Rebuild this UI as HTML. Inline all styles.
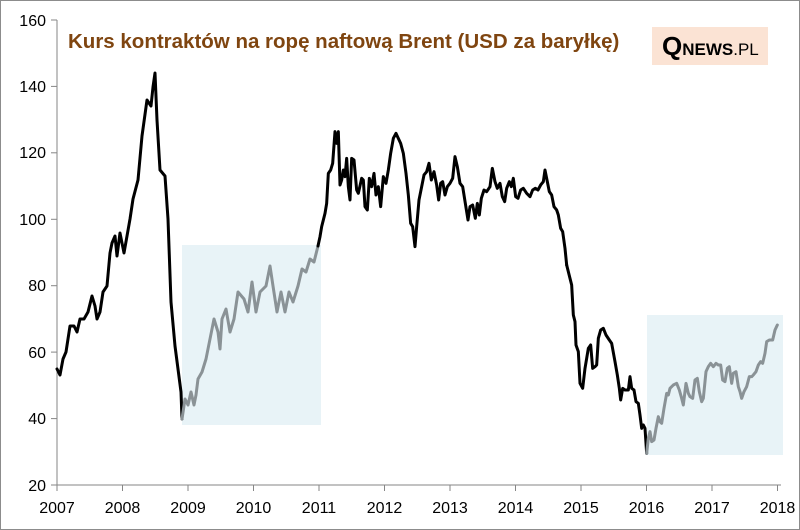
<!DOCTYPE html>
<html><head><meta charset="utf-8"><style>
html,body{margin:0;padding:0;background:#fff}
svg{display:block}
text{font-family:"Liberation Sans",sans-serif}
</style></head><body>
<svg width="800" height="530" viewBox="0 0 800 530" xmlns="http://www.w3.org/2000/svg">
<rect x="0.5" y="0.5" width="799" height="529" fill="#fff" stroke="#8c8c8c"/>
<rect x="182" y="245" width="139" height="180" fill="#e8f3f7"/>
<rect x="647" y="315" width="136" height="140" fill="#e8f3f7"/>
<g stroke="#868686" stroke-width="1" fill="none">
<line x1="57" y1="20" x2="57" y2="485"/>
<line x1="57" y1="485" x2="781" y2="485"/>
<line x1="51" y1="20" x2="57" y2="20"/><line x1="51" y1="86.4" x2="57" y2="86.4"/><line x1="51" y1="152.8" x2="57" y2="152.8"/><line x1="51" y1="219.3" x2="57" y2="219.3"/><line x1="51" y1="285.7" x2="57" y2="285.7"/><line x1="51" y1="352.1" x2="57" y2="352.1"/><line x1="51" y1="418.6" x2="57" y2="418.6"/><line x1="51" y1="485" x2="57" y2="485"/>
<line x1="57" y1="485" x2="57" y2="491"/><line x1="122.5" y1="485" x2="122.5" y2="491"/><line x1="188" y1="485" x2="188" y2="491"/><line x1="253.5" y1="485" x2="253.5" y2="491"/><line x1="319" y1="485" x2="319" y2="491"/><line x1="384.5" y1="485" x2="384.5" y2="491"/><line x1="450" y1="485" x2="450" y2="491"/><line x1="515.5" y1="485" x2="515.5" y2="491"/><line x1="581" y1="485" x2="581" y2="491"/><line x1="646.5" y1="485" x2="646.5" y2="491"/><line x1="712" y1="485" x2="712" y2="491"/><line x1="777.5" y1="485" x2="777.5" y2="491"/>
</g>
<g font-size="16" fill="#000" text-anchor="end">
<text x="46" y="26">160</text><text x="46" y="92">140</text><text x="46" y="158">120</text><text x="46" y="225">100</text><text x="46" y="291">80</text><text x="46" y="358">60</text><text x="46" y="424">40</text><text x="46" y="491">20</text>
</g>
<g font-size="16" fill="#000" text-anchor="middle">
<text x="57" y="513">2007</text><text x="122.5" y="513">2008</text><text x="188" y="513">2009</text><text x="253.5" y="513">2010</text><text x="319" y="513">2011</text><text x="384.5" y="513">2012</text><text x="450" y="513">2013</text><text x="515.5" y="513">2014</text><text x="581" y="513">2015</text><text x="646.5" y="513">2016</text><text x="712" y="513">2017</text><text x="777.5" y="513">2018</text>
</g>
<text x="68" y="48" font-size="20.5" font-weight="bold" fill="#7f4510">Kurs kontraktów na ropę naftową Brent (USD za baryłkę)</text>
<rect x="652" y="27" width="116" height="38" fill="#fbe3d4"/>
<text x="662" y="55" font-family="Liberation Serif,serif" font-weight="bold" fill="#000"><tspan font-size="26">Q</tspan><tspan font-size="17">NEWS</tspan><tspan font-size="17" font-weight="normal">.PL</tspan></text>
<g fill="none" stroke-linejoin="round" stroke-linecap="round">
<polyline stroke="#000" stroke-width="3" points="57,369 60,375 63,359 66,352 70,326 74,326 77,332 80,319 84,319 88,312 92,296 95,306 97,319 100,312 103,292 107,286 110,253 112,243 115,236 117,256 120,233 124,253 130,219 133,199 138,180 142,136 147,100 151,106 153,87 155,73 157,120 160,170 165,176 168,219 171,302 175,346 178,369 181,392 182,419"/>
<polyline stroke="#8a9296" stroke-width="3" points="182,419 185,399 188,405 191,392 194,405 196,395 198,379 202,372 206,359 210,339 214,319 218,332 220,349 222,319 226,309 230,332 234,319 238,292 244,299 248,312 252,282 256,312 260,292 266,286 270,266 273,286 277,312 281,292 285,312 289,292 293,302 298,286 302,269 306,272 310,259 314,262 318,246"/>
<polyline stroke="#000" vector-effect="non-scaling-stroke" style="stroke-width:3" transform="translate(310,110) scale(0.33333)" points="24,408 30,380 35,350 45,310 50,280 55,190 62,180 68,160 75,65 80,100 85,65 90,225 95,210 100,180 105,200 110,145 115,230 120,270 125,145 132,150 140,240 145,250 155,205 160,210 165,290 172,300 178,205 185,230 192,190 198,255 205,230 212,290 220,200 228,220 235,180 242,130 250,85 258,70 265,85 272,100 280,130 288,190 295,255 302,340 308,350 315,410 320,350 327,270 335,230 342,195 350,185 357,160 364,210 372,185 380,225 386,270 392,220 398,215 405,255 412,230 420,220 428,205 435,140 442,170 450,220 458,230 466,280 474,330 480,290 488,285 496,325 502,280 508,315 514,265 522,240 530,245 540,230 547,175 555,215 562,235 570,220 577,260 584,275 590,235 598,215 604,230 610,205 617,260 624,265 632,240 640,235 650,250 660,260 668,240 676,235 684,240 692,225 700,215 705,180 712,215 718,245 725,255 732,290 740,300 745,315 752,355 758,365 765,415 770,465"/>
<polyline stroke="#000" vector-effect="non-scaling-stroke" style="stroke-width:3" transform="translate(400,265) scale(0.33333)" points="500,0 510,40 515,60 520,150 525,170 528,240 535,260 540,355 548,370 555,310 565,250 572,240 578,310 585,305 590,300 595,220 602,195 610,190 618,210 628,225 635,235 645,290 652,330 658,370 662,405 668,370 675,375 685,375 690,335 695,370 702,375 708,410 715,415 720,450 725,490 730,480 735,490 740,565"/>
<polyline stroke="#8a9296" vector-effect="non-scaling-stroke" style="stroke-width:3" transform="translate(400,265) scale(0.33333)" points="740,565 745,520 750,500 755,530 762,525 768,490 775,455 780,470 785,475 792,430 800,385 805,390 810,370 820,360 830,355 838,375 845,400 850,420 858,355 865,385 870,395 878,400 885,345 892,340 898,380 905,410 910,400 918,320 925,305 932,295 940,305 948,295 955,300 962,300 968,345 975,350 982,310 988,305 995,355 1000,325 1008,320 1015,365 1020,380 1025,400 1032,380 1040,365 1048,335 1055,335 1060,330 1068,320 1075,300 1082,290 1088,295 1095,265 1100,230 1108,225 1118,225 1125,195 1132,180"/>
</g>
</svg>
</body></html>
